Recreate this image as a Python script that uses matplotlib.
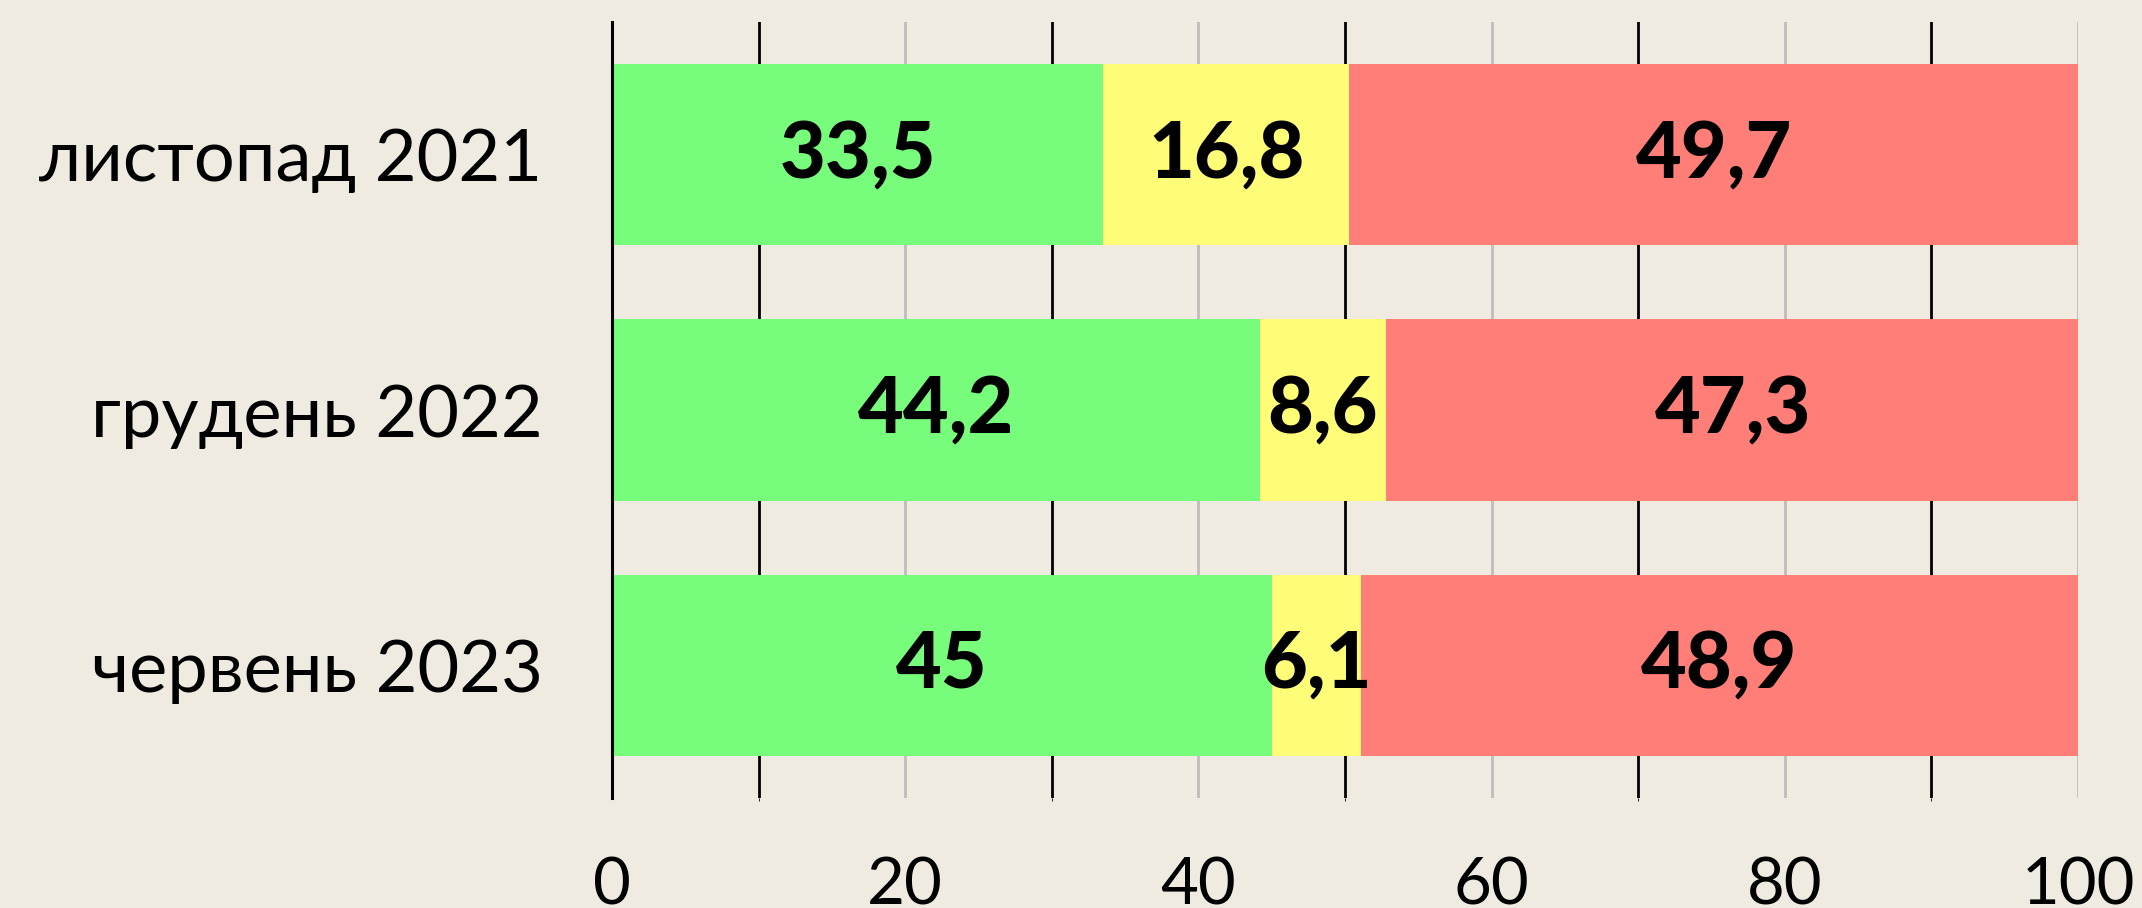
import matplotlib.pyplot as plt
from matplotlib.ticker import MultipleLocator

# Дані
periods = ["листопад 2021", "грудень 2022", "червень 2023"]
green_vals = [33.5, 44.2, 45.0]
yellow_vals = [16.8, 8.6, 6.1]
red_vals = [49.7, 47.3, 48.9]
x_ticks = [0, 20, 40, 60, 80, 100]

bg = "#efebe1"
colors = ["#78fc7b", "#fffc78", "#ff7e78"]

plt.rcParams['font.family'] = ['Lato', 'DejaVu Sans']

fig = plt.figure(figsize=(21.42, 9.08), dpi=100, facecolor=bg)
ax = fig.add_axes([0.2857, 0.1211, 0.6844, 0.8547], facecolor=bg)

def fmt(v):
    s = f"{v:.1f}".replace(".", ",")
    return s[:-2] if s.endswith(",0") else s

ypos = list(range(len(periods)))
left = [0.0] * len(periods)
for vals, col in zip([green_vals, yellow_vals, red_vals], colors):
    bars = ax.barh(ypos, vals, left=left, height=0.71, color=col, zorder=3)
    for b, v in zip(bars, vals):
        ax.text(b.get_x() + b.get_width() / 2, b.get_y() + b.get_height() / 2,
                fmt(v), ha="center", va="center", fontsize=57,
                fontweight="black", color="black", zorder=4)
    left = [l + v for l, v in zip(left, vals)]

ax.set_xlim(0, 100)
ax.set_ylim(2.52, -0.52)
ax.set_yticks(ypos)
ax.set_yticklabels(periods, fontsize=52)
ax.set_xticks(x_ticks)
ax.set_xticklabels([str(t) for t in x_ticks], fontsize=47)
ax.xaxis.set_minor_locator(MultipleLocator(10))
ax.tick_params(axis="both", length=0)
ax.tick_params(axis="x", pad=42)
ax.tick_params(axis="y", pad=50)

# сітка: сірі лінії на парних десятках, чорні на непарних
ax.grid(axis="x", which="major", color="#bdbdbd", linewidth=2, zorder=0)
ax.grid(axis="x", which="minor", color="black", linewidth=2, zorder=0)

for s in ["top", "right", "bottom"]:
    ax.spines[s].set_visible(False)
ax.spines["left"].set_color("black")
ax.spines["left"].set_linewidth(2.2)
ax.spines["left"].set_zorder(5)

fig.savefig("out.png", dpi=100, facecolor=bg)
